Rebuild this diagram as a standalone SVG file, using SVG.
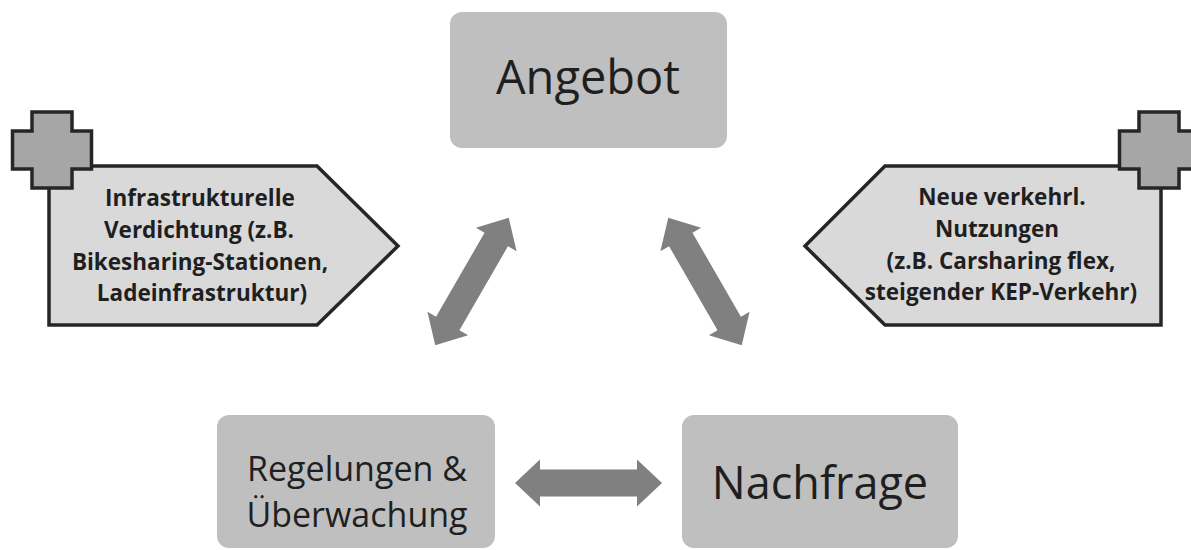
<svg xmlns="http://www.w3.org/2000/svg" xmlns:xlink="http://www.w3.org/1999/xlink" width="1191" height="550" viewBox="0 0 1191 550">
<style>
.box{fill:#bfbfbf;}
.big{font-family:"Open Sans","Liberation Sans",sans-serif;fill:#1f1f1f;text-anchor:middle;}
.pent{fill:#d9d9d9;stroke:#262626;stroke-width:3.5;stroke-linejoin:miter;}
.cross{fill:#a6a6a6;stroke:#262626;stroke-width:3.5;}
.small{font-family:"Open Sans","Liberation Sans",sans-serif;font-weight:bold;font-size:22.5px;fill:#1f1f1f;text-anchor:middle;}
.arrow{fill:#808080;}
</style>
<defs>
<path id="dbl" d="M-73.5,0 L-48.5,-23.5 L-48.5,-13.5 L48.5,-13.5 L48.5,-23.5 L73.5,0 L48.5,23.5 L48.5,13.5 L-48.5,13.5 L-48.5,23.5 Z"/>
<path id="plus" d="M-20,-38 H20 V-19 H39.5 V19 H20 V38 H-20 V19 H-39.5 V-19 H-20 Z"/>
</defs>
<rect width="1191" height="550" fill="#ffffff"/>
<g id="angebot">
<rect class="box" x="450" y="12" width="277" height="136" rx="12"/>
<text class="big" x="588" y="94" font-size="47">Angebot</text>
</g>
<g id="regelungen">
<rect class="box" x="217" y="415" width="278" height="133" rx="12"/>
<text class="big" x="357" y="481" font-size="34">Regelungen &amp;</text>
<text class="big" x="357" y="527" font-size="34">Überwachung</text>
</g>
<g id="nachfrage">
<rect class="box" x="682" y="415" width="276" height="133" rx="12"/>
<text class="big" x="820" y="499" font-size="45">Nachfrage</text>
</g>
<g id="infrastruktur">
<path class="pent" d="M49,166 L317,166 L398,246 L317,325 L49,325 Z"/>
<use href="#plus" class="cross" transform="translate(52,150)"/>
<text class="small" x="200" y="206">Infrastrukturelle</text>
<text class="small" x="199" y="238">Verdichtung (z.B.</text>
<text class="small" x="200" y="270">Bikesharing-Stationen,</text>
<text class="small" x="202" y="301">Ladeinfrastruktur)</text>
</g>
<g id="nutzungen">
<path class="pent" d="M1161,166 L885,166 L805,246 L885,325 L1161,325 Z"/>
<use href="#plus" class="cross" transform="translate(1159,150)"/>
<text class="small" x="1002" y="205">Neue verkehrl.</text>
<text class="small" x="997" y="237">Nutzungen</text>
<text class="small" x="1001" y="269">(z.B. Carsharing flex,</text>
<text class="small" x="1001" y="300">steigender KEP-Verkehr)</text>
</g>
<g id="connectors">
<use href="#dbl" class="arrow" transform="translate(472,281.5) rotate(-60)"/>
<use href="#dbl" class="arrow" transform="translate(705,281.5) rotate(60)"/>
<use href="#dbl" class="arrow" transform="translate(588.5,483)"/>
</g>
</svg>
